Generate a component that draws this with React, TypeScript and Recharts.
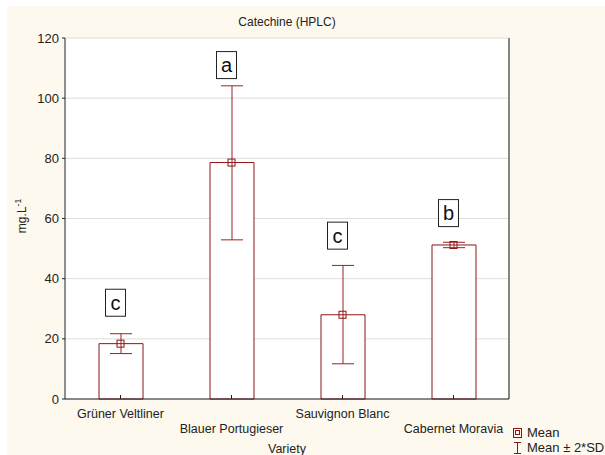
import React from 'react';
import { ComposedChart, Bar, Scatter, ErrorBar, XAxis, YAxis, CartesianGrid } from 'recharts';

const varieties = ['Grüner Veltliner', 'Blauer Portugieser', 'Sauvignon Blanc', 'Cabernet Moravia'];
const means = [18.4, 78.6, 28.0, 51.2];
const lowers = [15.1, 52.9, 11.7, 50.3];
const uppers = [21.7, 104.1, 44.4, 52.1];
const letters = ['c', 'a', 'c', 'b'];
const letterLevels = [32, 111, 54.3, 61.8];
const yTicks = [0, 20, 40, 60, 80, 100, 120];

const RED = '#8E1414';
const FONT = '"Liberation Sans", Arial, sans-serif';

const data = varieties.map((v, i) => ({
  variety: v,
  mean: means[i],
  err: [means[i] - lowers[i], uppers[i] - means[i]],
  letterY: letterLevels[i],
  letter: letters[i],
}));

// staggered category labels with small inward tick marks
const BottomTick = (props: any) => {
  const { x, y, payload, index } = props;
  const dy = index % 2 === 0 ? 18.5 : 33.5;
  return (
    <g>
      <line x1={x} y1={y} x2={x} y2={y - 4} stroke="#222" />
      <text x={x} y={y + dy} textAnchor="middle" fontSize={12.5} fontFamily={FONT} fill="#222">
        {payload.value}
      </text>
    </g>
  );
};

const TopTick = (props: any) => {
  const { x, y } = props;
  return <line x1={x} y1={y} x2={x} y2={y + 4} stroke="#222" />;
};

const MeanMarker = (props: any) => {
  const { cx, cy } = props;
  if (cx == null || cy == null) return <g />;
  return <rect x={cx - 3.5} y={cy - 3.5} width={7} height={7} fill="none" stroke={RED} strokeWidth={1} />;
};

const LetterBox = (props: any) => {
  const { cx, cy, payload } = props;
  if (cx == null || cy == null) return <g />;
  const bx = cx - 5;
  return (
    <g>
      <rect x={bx - 10} y={cy - 13.5} width={20} height={27} fill="#fff" stroke="#222" strokeWidth={1} />
      <text x={bx} y={cy + 7} textAnchor="middle" fontSize={20} fontFamily={FONT} fill="#111">
        {payload.letter}
      </text>
    </g>
  );
};

const YLabel = () => {
  const cx = 26;
  const cy = 216;
  return (
    <text
      x={cx}
      y={cy}
      transform={`rotate(-90 ${cx} ${cy})`}
      textAnchor="middle"
      fontSize={12}
      fontFamily={FONT}
      fill="#222"
    >
      mg.L
      <tspan dy={-5} fontSize={8.5}>-1</tspan>
    </text>
  );
};

const XLabel = (props: any) => {
  const { viewBox } = props;
  const cx = viewBox.x + viewBox.width / 2;
  return (
    <text x={cx} y={453} textAnchor="middle" fontSize={12.5} fontFamily={FONT} fill="#222">
      Variety
    </text>
  );
};

export default function App() {
  return (
    <div style={{ position: 'absolute', left: 0, top: 0, width: 605, height: 455, background: '#fff', fontFamily: FONT }}>
      <div style={{ position: 'absolute', left: 7, top: 6, right: 0, bottom: 0, background: '#FDF9EE' }} />
      <div style={{ position: 'absolute', left: 0, top: 0 }}>
        <ComposedChart width={605} height={455} data={data} margin={{ top: 38, right: 86, left: 0, bottom: 0 }}>
          <CartesianGrid vertical={false} stroke="#dedede" fill="#fff" />
          <XAxis
            dataKey="variety"
            xAxisId={0}
            height={56}
            tickSize={0}
            tickMargin={0}
            tickLine={false}
            axisLine={{ stroke: '#222' }}
            tick={<BottomTick />}
            interval={0}
            label={<XLabel />}
          />
          <XAxis
            dataKey="variety"
            xAxisId="top"
            orientation="top"
            height={0}
            tickSize={0}
            tickMargin={0}
            tickLine={false}
            axisLine={{ stroke: '#111' }}
            tick={<TopTick />}
            interval={0}
          />
          <YAxis
            yAxisId={0}
            width={65}
            domain={[0, 120]}
            ticks={yTicks}
            tickSize={3}
            tickMargin={3}
            axisLine={{ stroke: '#222' }}
            tickLine={{ stroke: '#222' }}
            tick={{ fontSize: 13, fontFamily: FONT, fill: '#222' }}
            label={<YLabel />}
          />
          <YAxis
            yAxisId="right"
            orientation="right"
            width={10}
            domain={[0, 120]}
            ticks={yTicks}
            tickSize={3}
            axisLine={{ stroke: '#111' }}
            tickLine={{ stroke: '#111' }}
            tickFormatter={() => ''}
          />
          <Bar dataKey="mean" barSize={44} fill="#fff" stroke={RED} strokeWidth={1} isAnimationActive={false}>
            <ErrorBar dataKey="err" width={11} stroke="#9A2222" strokeWidth={1} direction="y" />
          </Bar>
          <Scatter dataKey="mean" shape={<MeanMarker />} isAnimationActive={false} />
          <Scatter dataKey="letterY" shape={<LetterBox />} isAnimationActive={false} />
        </ComposedChart>
      </div>
      <div style={{ position: 'absolute', left: 0, width: 574, top: 15, textAlign: 'center', fontSize: 12, color: '#222' }}>
        Catechine (HPLC)
      </div>
      <div style={{ position: 'absolute', left: 513, top: 425, fontSize: 13, color: '#222', lineHeight: '15px' }}>
        <div style={{ display: 'flex', alignItems: 'center' }}>
          <svg width={9} height={10} style={{ marginRight: 5 }}>
            <rect x={0.5} y={0.5} width={8} height={9} fill="none" stroke={RED} />
            <rect x={2.5} y={2.5} width={4} height={4} fill="none" stroke={RED} />
          </svg>
          Mean
        </div>
        <div style={{ display: 'flex', alignItems: 'center' }}>
          <svg width={9} height={12} style={{ marginRight: 5 }}>
            <line x1={1} y1={0.5} x2={8} y2={0.5} stroke={RED} />
            <line x1={4.5} y1={0.5} x2={4.5} y2={11.5} stroke={RED} />
            <line x1={1} y1={11.5} x2={8} y2={11.5} stroke={RED} />
          </svg>
          Mean ± 2*SD
        </div>
      </div>
    </div>
  );
}
